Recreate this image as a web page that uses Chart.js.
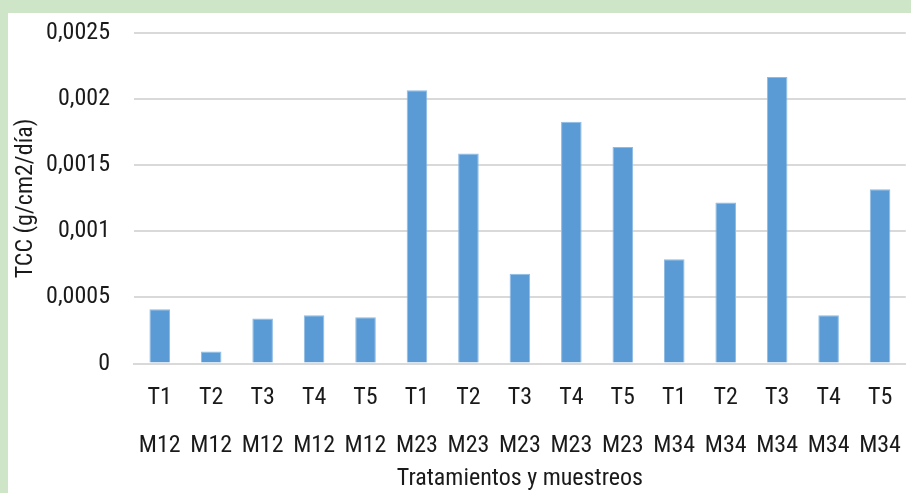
<!DOCTYPE html>
<html>
<head>
<meta charset="utf-8">
<script src="https://cdn.jsdelivr.net/npm/chart.js@4/dist/chart.umd.min.js"></script>
<style>
  html, body { margin: 0; padding: 0; }
  body { width: 911px; height: 493px; background: #cfe5c8; position: relative; overflow: hidden; }
  #panel { position: absolute; left: 8px; top: 13px; width: 903px; height: 480px; background: #ffffff; overflow: hidden; }
  #chart { display: block; position: absolute; left: 0; top: -18px; }
</style>
</head>
<body>
<div id="panel"><canvas id="chart" width="903" height="498"></canvas></div>
<script>
// Treatment and sampling interval for each bar (two-row category labels)
const treatments = ['T1', 'T2', 'T3', 'T4', 'T5', 'T1', 'T2', 'T3', 'T4', 'T5', 'T1', 'T2', 'T3', 'T4', 'T5'];
const samplings = ['M12', 'M12', 'M12', 'M12', 'M12', 'M23', 'M23', 'M23', 'M23', 'M23', 'M34', 'M34', 'M34', 'M34', 'M34'];

// TCC in g/cm2/día
const tccValues = [0.00041, 0.00009, 0.00034, 0.000365, 0.00035,
                   0.00207, 0.00159, 0.00068, 0.00183, 0.00164,
                   0.00079, 0.00122, 0.00217, 0.000365, 0.00132];

// Y axis tick labels (decimal comma), bottom to top
const yTickLabels = ['0', '0,0005', '0,001', '0,0015', '0,002', '0,0025'];

const labels = treatments.map((t, i) => [t, samplings[i]]);

const FONT = "'Liberation Sans Narrow', 'Roboto Condensed', 'Arial Narrow', Roboto, sans-serif";
const TEXT = '#1a1a1a';
const GRID = '#d9d9d9';

new Chart(document.getElementById('chart'), {
  type: 'bar',
  data: {
    labels: labels,
    datasets: [{
      data: tccValues,
      backgroundColor: '#5b9bd5',
      borderColor: '#8ebbe4',
      borderWidth: 1,
      barPercentage: 0.4,
      categoryPercentage: 1.0
    }]
  },
  options: {
    responsive: false,
    animation: false,
    layout: { padding: { top: 1, right: 1, bottom: 0, left: 0 } },
    plugins: {
      legend: { display: false },
      tooltip: { enabled: false }
    },
    scales: {
      x: {
        grid: { display: false, drawTicks: false },
        border: { display: true, color: GRID, width: 2 },
        ticks: {
          color: TEXT,
          padding: 10,
          maxRotation: 0,
          autoSkip: false,
          font: { family: FONT, size: 24, lineHeight: 2 }
        },
        title: {
          display: true,
          text: 'Tratamientos y muestreos',
          color: TEXT,
          padding: { top: 0, bottom: 0 },
          font: { family: FONT, size: 24 }
        },
        afterFit: (scale) => { scale.height = 129.5; }
      },
      y: {
        min: 0,
        max: 0.0025,
        grid: { color: GRID, lineWidth: 2, drawTicks: false },
        border: { display: false },
        ticks: {
          stepSize: 0.0005,
          color: TEXT,
          padding: 24,
          font: { family: FONT, size: 24 },
          callback: (value, index) => yTickLabels[index]
        },
        title: {
          display: true,
          text: 'TCC (g/cm2/día)',
          color: TEXT,
          padding: { top: 4, bottom: 0 },
          font: { family: FONT, size: 24 }
        },
        afterFit: (scale) => { scale.width = 126; }
      }
    }
  }
});
</script>
</body>
</html>
